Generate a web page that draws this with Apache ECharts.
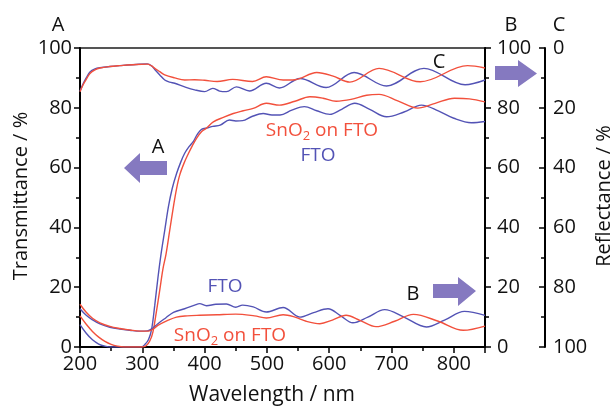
<!DOCTYPE html>
<html><head><meta charset="utf-8">
<script src="https://cdn.jsdelivr.net/npm/echarts@6/dist/echarts.min.js"></script>
<style>html,body{margin:0;padding:0;background:#fff}#c{width:615px;height:407px}</style>
</head><body><div id="c"></div>
<script>
// ---- data (wavelength nm, value %) ----
const transFTO = [[200,7.5],[210,4.6],[220,2.4],[230,1.0],[240,0.3],[250,0],[275,0],[298,0],[304,0.8],[310,2.5],[315,6],[320,14],[325,23],[330,31],[336,39],[342,47],[348,53],[355,58],[362,62],[368,64.8],[375,67],[382,68.8],[388,71],[395,72.8],[405,73.3],[413,73.8],[425,74.2],[440,75.9],[450,75.6],[461,75.7],[475,77],[494,78.1],[508,77.6],[521,77.6],[540,79.2],[560,80.4],[580,79],[601,77.8],[620,79.5],[641,81.5],[665,79.5],[692,77],[720,78.6],[748,80.9],[775,79],[800,76.5],[828,75],[850,75.4]];
const transSnO2 = [[200,10.4],[210,7.6],[220,5.2],[230,3.3],[240,1.9],[250,0.9],[260,0.3],[270,0],[300,0],[306,0.4],[312,2],[317,5],[322,11],[328,19],[333,26],[338,31],[344,39],[350,47],[355,53],[360,57.5],[367,61.5],[374,64.7],[380,67.2],[387,69.8],[395,72],[403,73.2],[414,75.3],[430,76.8],[446,78.1],[462,79],[478,79.8],[499,81.5],[520,80.9],[545,82.2],[569,83.7],[590,83.2],[611,82.2],[635,82.8],[660,84.2],[680,84.5],[710,82.3],[742,79.9],[770,81.5],[801,83.2],[825,83],[850,82]];
const bFTO = [[200,12.8],[210,10.6],[220,9.1],[232,7.7],[248,6.6],[264,6.0],[280,5.6],[296,5.3],[308,5.4],[316,6.2],[325,7.8],[338,9.8],[350,11.6],[368,12.8],[384,14],[392,14.5],[403,13.8],[418,14.3],[435,14.4],[450,13.3],[461,14],[478,13.4],[499,11.7],[526,13.2],[553,10],[575,11.5],[598,12.8],[618,10.5],[638,8.1],[662,10],[689,12.5],[720,10],[756,6.7],[785,9],[817,11.9],[850,10.6]];
const bSnO2 = [[200,14.3],[210,11.6],[220,9.6],[232,8.1],[248,6.9],[264,6.2],[280,5.7],[296,5.3],[310,5.3],[318,6.1],[325,7.2],[340,8.8],[355,10],[372,10.4],[392,10.6],[420,10.8],[450,11],[480,10.4],[499,9.7],[526,10.8],[545,10],[563,8.6],[585,7.8],[605,9],[627,10.6],[650,8.8],[675,6.8],[705,8.6],[735,10.9],[775,8.6],[815,5.6],[850,7]];
const reflFTO = [[200,14.5],[205,12],[210,10],[216,8],[224,7],[232,6.6],[248,6.2],[264,5.9],[290,5.5],[308,5.3],[315,6],[320,7.2],[328,9],[336,10.7],[344,11.4],[352,11.8],[368,13],[384,14],[400,14.6],[413,13.5],[424,14.4],[435,14.6],[451,13],[472,14.4],[499,11.8],[520,13.4],[553,10.2],[595,13.2],[640,8.2],[692,12.7],[752,6.8],[818,12.3],[850,10.7]];
const reflSnO2 = [[200,14.6],[205,12.3],[210,10.5],[216,8.5],[224,7.3],[232,6.7],[248,6.2],[264,5.9],[290,5.5],[308,5.4],[315,6],[320,6.8],[328,7.9],[336,9],[352,10],[368,10.7],[384,10.6],[400,10.8],[420,11.2],[445,10.5],[477,11.2],[499,9.6],[526,10.7],[545,10.6],[580,8.2],[605,9.3],[633,11.4],[680,6.8],[746,11.3],[822,5.9],[850,6.7]];
const xRange = [200, 850];
const yRange = [0, 100];

const FONT = "'Open Sans', 'Liberation Sans', Arial, sans-serif";
const RED = '#f2503c', BLUE = '#5353b5', ARROW = '#8579c0';

const chart = echarts.init(document.getElementById('c'), null, {renderer: 'canvas'});
const axisCommon = {
  type: 'value', min: yRange[0], max: yRange[1], interval: 20,
  axisLine: {show: true, lineStyle: {color: '#000', width: 2}},
  axisTick: {show: true, length: 6, lineStyle: {color: '#000', width: 1.5}},
  minorTick: {show: true, splitNumber: 2, length: 4, lineStyle: {color: '#000', width: 1.5}},
  splitLine: {show: false},
  axisLabel: {color: '#111', fontSize: 20, fontFamily: FONT}
};
function line(name, data, color, yIdx) {
  return {name, type: 'line', data, yAxisIndex: yIdx, showSymbol: false, smooth: 0.35,
    lineStyle: {color, width: 1.4}, itemStyle: {color}, silent: true, animation: false};
}
const arrow = (pts) => ({type: 'polygon', shape: {points: pts}, style: {fill: ARROW}});
const txt = (x, y, text, color, size, extra) => Object.assign({type: 'text', x, y,
  style: {text, fill: color, fontSize: size, fontFamily: FONT, align: 'center', verticalAlign: 'middle'}}, extra || {});
const richLabel = (x, y, color) => ({type: 'text', x, y, style: {
  text: '{a|SnO}{s|2}{a| on FTO}', align: 'center', verticalAlign: 'middle', fill: color,
  rich: {a: {fontSize: 19, fontFamily: FONT, fill: color, lineHeight: 24},
         s: {fontSize: 13, fontFamily: FONT, fill: color, lineHeight: 13, verticalAlign: 'bottom'}}}});

chart.setOption({
  animation: false,
  grid: {left: 80, right: 130, top: 48, bottom: 60, show: true, borderColor: '#555', borderWidth: 2},
  xAxis: {type: 'value', min: xRange[0], max: xRange[1], interval: 100,
    axisLine: {lineStyle: {color: '#000', width: 2}},
    axisTick: {length: 6, lineStyle: {color: '#000', width: 1.5}},
    minorTick: {show: true, splitNumber: 2, length: 4, lineStyle: {color: '#000', width: 1.5}},
    splitLine: {show: false},
    axisLabel: {color: '#111', fontSize: 20, fontFamily: FONT, margin: 7, showMaxLabel: false}},
  yAxis: [
    Object.assign({}, axisCommon, {position: 'left', axisLabel: Object.assign({}, axisCommon.axisLabel, {margin: 8})}),
    Object.assign({}, axisCommon, {position: 'right', axisLabel: Object.assign({}, axisCommon.axisLabel, {margin: 12})}),
    Object.assign({}, axisCommon, {position: 'right', offset: 60, inverse: true,
      axisTick: Object.assign({}, axisCommon.axisTick, {inside: true}),
      minorTick: Object.assign({}, axisCommon.minorTick),
      axisLabel: Object.assign({}, axisCommon.axisLabel, {margin: 8})})
  ],
  series: [
    line('T FTO', transFTO, BLUE, 0),
    line('T SnO2', transSnO2, RED, 0),
    line('B FTO', bFTO, BLUE, 1),
    line('B SnO2', bSnO2, RED, 1),
    line('R FTO', reflFTO, BLUE, 2),
    line('R SnO2', reflSnO2, RED, 2)
  ],
  graphic: [
    txt(21, 196, 'Transmittance / %', '#111', 20, {rotation: Math.PI / 2}),
    txt(604, 196, 'Reflectance / %', '#111', 20, {rotation: Math.PI / 2}),
    txt(272, 395, 'Wavelength / nm', '#111', 21),
    txt(58, 25, 'A', '#111', 20),
    txt(511, 25, 'B', '#111', 20),
    txt(559, 25, 'C', '#111', 20),
    txt(158, 147, 'A', '#111', 20),
    txt(413, 294, 'B', '#111', 20),
    txt(439, 62, 'C', '#111', 20),
    richLabel(322, 131, RED),
    txt(318, 156, 'FTO', BLUE, 19),
    txt(225, 287, 'FTO', BLUE, 19),
    richLabel(230, 336, RED),
    arrow([[124,168],[140,153],[140,161],[167,161],[167,175],[140,175],[140,183]]),
    arrow([[495,66],[518,66],[518,60],[537,73.5],[518,87],[518,80],[495,80]]),
    arrow([[433,284],[458,284],[458,277],[476,291],[458,306],[458,298],[433,298]])
  ]
});
</script></body></html>
